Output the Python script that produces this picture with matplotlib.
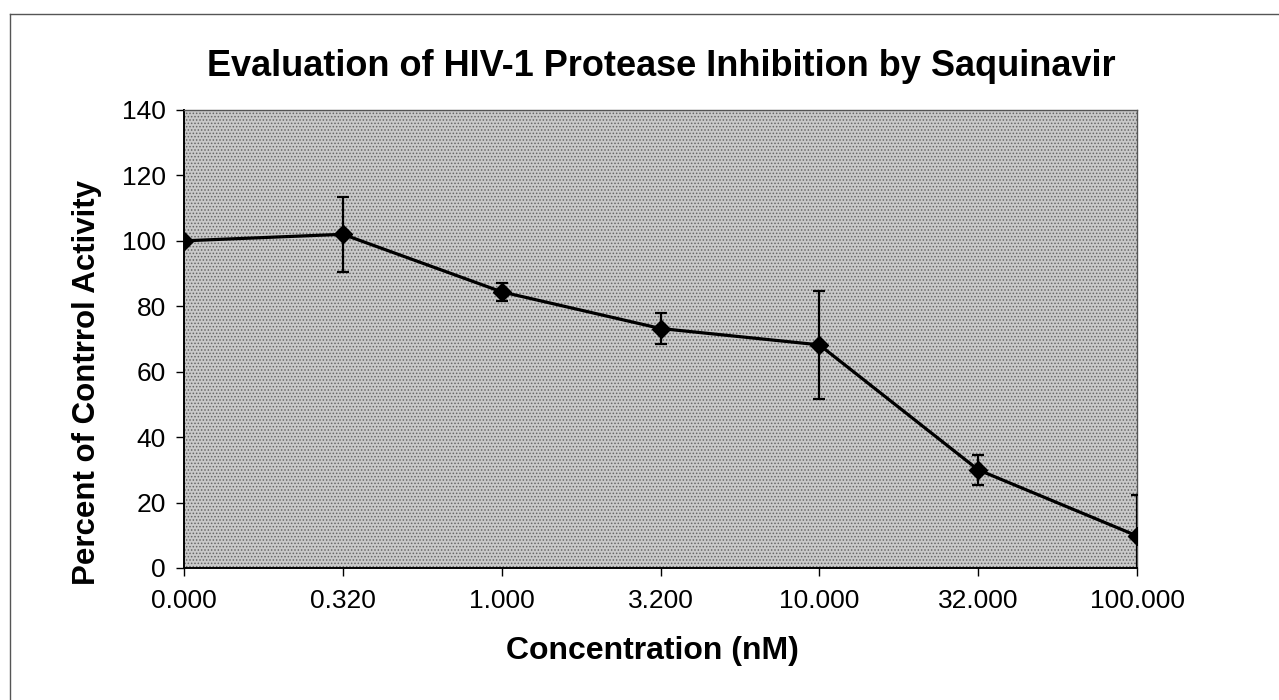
import matplotlib.pyplot as plt
from matplotlib.lines import Line2D
import numpy as np

# Data
concentrations = ['0.000', '0.320', '1.000', '3.200', '10.000', '32.000', '100.000']
percent_activity = [100.0, 102.0, 84.4, 73.2, 68.2, 30.0, 9.8]
error = [0.0, 11.4, 2.8, 4.7, 16.5, 4.5, 12.6]
y_ticks = [0, 20, 40, 60, 80, 100, 120, 140]

plt.rcParams['font.family'] = ['Liberation Sans', 'DejaVu Sans']
plt.rcParams['hatch.linewidth'] = 0.7

fig = plt.figure(figsize=(12.79, 7.0), dpi=100)
ax = fig.add_axes([0.1439, 0.1886, 0.7451, 0.6543])

# Excel-like stippled plot area
ax.set_facecolor('#c9c9c9')
ax.patch.set_hatch('.....')
ax.patch.set_edgecolor('#666666')

x = np.arange(len(concentrations))
ax.errorbar(x, percent_activity, yerr=error, color='black', linewidth=2.3,
            marker='D', markersize=9, elinewidth=1.6, capsize=4.5, capthick=1.6,
            clip_on=True, zorder=3)

ax.set_xlim(0, len(concentrations) - 1)
ax.set_ylim(0, 140)
ax.set_xticks(x)
ax.set_xticklabels(concentrations)
ax.set_yticks(y_ticks)
ax.tick_params(axis='both', labelsize=19, length=6, width=1, direction='out')
ax.tick_params(axis='x', pad=9)
ax.tick_params(axis='y', pad=7)

for side in ['top', 'right']:
    ax.spines[side].set_color('#555555')
    ax.spines[side].set_linewidth(1.0)
for side in ['left', 'bottom']:
    ax.spines[side].set_color('black')
    ax.spines[side].set_linewidth(1.4)

ax.set_xlabel('Concentration (nM)', fontsize=23, fontweight='bold')
ax.xaxis.set_label_coords(0.492, -0.148)
ax.set_ylabel('Percent of Contrrol Activity', fontsize=22.5, fontweight='bold')
ax.yaxis.set_label_coords(-0.086, 0.404)
fig.text(0.517, 0.905, 'Evaluation of HIV-1 Protease Inhibition by Saquinavir',
         ha='center', va='center', fontsize=26, fontweight='bold')

# outer chart border
fig.add_artist(Line2D([0.008, 0.008], [0.0, 0.98], transform=fig.transFigure,
                      color='#555555', linewidth=1.0))
fig.add_artist(Line2D([0.008, 1.0], [0.98, 0.98], transform=fig.transFigure,
                      color='#555555', linewidth=1.0))

fig.savefig('out.png', dpi=100)
